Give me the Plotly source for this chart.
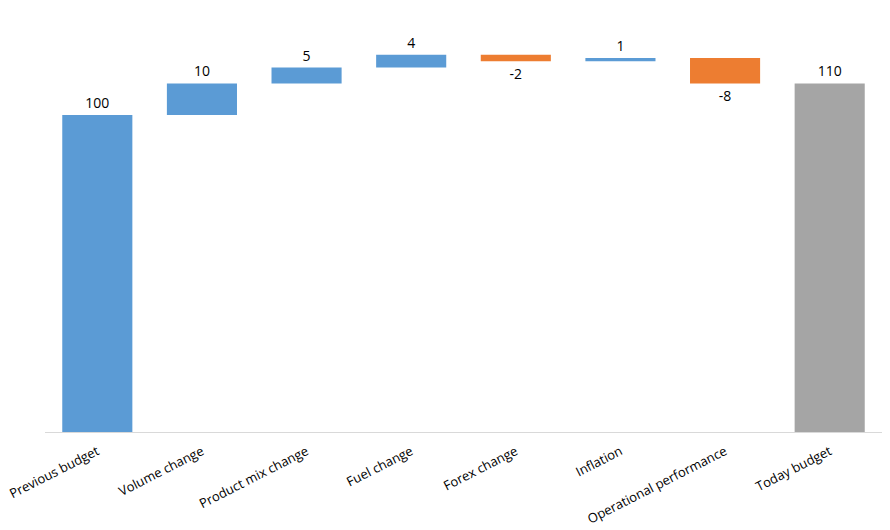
import plotly.graph_objects as go

categories = ["Previous budget", "Volume change", "Product mix change", "Fuel change",
              "Forex change", "Inflation", "Operational performance", "Today budget"]
changes = [100, 10, 5, 4, -2, 1, -8]
measures = ["relative"] * len(changes) + ["total"]

total = sum(changes)
values = changes + [0]
labels = [str(v) for v in changes] + [str(total)]

fig = go.Figure(go.Waterfall(
    x=categories,
    y=values,
    measure=measures,
    text=labels,
    textposition="outside",
    textfont=dict(size=14, color="#000000"),
    increasing=dict(marker=dict(color="#5B9BD5")),
    decreasing=dict(marker=dict(color="#ED7D31")),
    totals=dict(marker=dict(color="#A5A5A5")),
    connector=dict(visible=False),
    cliponaxis=False,
))

fig.update_layout(
    width=890, height=530,
    margin=dict(l=37, r=16, t=12, b=106),
    paper_bgcolor="white", plot_bgcolor="white",
    font=dict(family="Open Sans", size=14, color="#000000"),
    waterfallgap=0.33,
    showlegend=False,
)
fig.update_xaxes(showline=True, linecolor="#D9D9D9", linewidth=1, tickangle=-27,
                 ticks="", tickfont=dict(size=13, color="#000000"), showgrid=False,
                 ticklabelstandoff=6, automargin=False)
fig.update_yaxes(range=[0, 130], visible=False, showgrid=False, zeroline=False)

fig.write_html("out.html")
